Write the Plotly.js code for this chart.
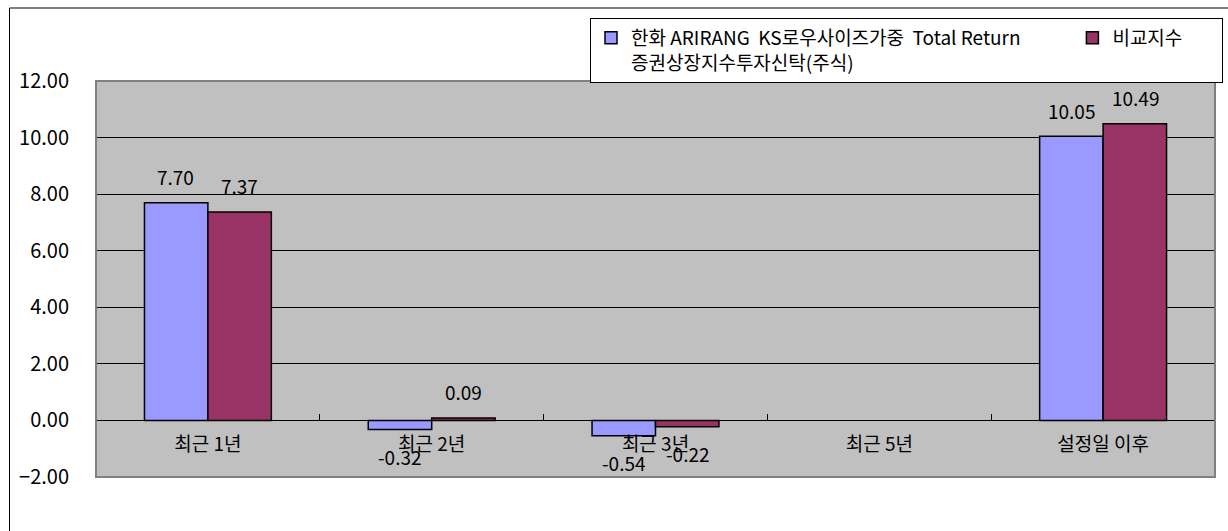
<!DOCTYPE html>
<html>
<head>
<meta charset="utf-8">
<script src="https://cdn.plot.ly/plotly-3.0.1.min.js"></script>
<style>html,body{margin:0;padding:0;background:#fff;}#chart{width:1228px;height:531px;}</style>
</head>
<body>
<div id="chart"></div>
<script>
const categories = ['최근 1년', '최근 2년', '최근 3년', '최근 5년', '설정일 이후'];
const fundName = '한화 ARIRANG  KS로우사이즈가중  Total Return' + '&nbsp;'.repeat(11) + '<br>증권상장지수투자신탁(주식)';
const benchName = '비교지수' + '&nbsp;'.repeat(8);
const fundValues = [7.70, -0.32, -0.54, null, 10.05];
const benchValues = [7.37, 0.09, -0.22, null, 10.49];
const yTicks = [-2, 0, 2, 4, 6, 8, 10, 12];

const FONT = 'Noto Sans CJK KR, Liberation Sans, sans-serif';

const traces = [
  {type: 'bar', name: fundName, x: categories, y: fundValues,
   marker: {color: '#9999FF', line: {color: '#000000', width: 1.5}}, hoverinfo: 'x+y'},
  {type: 'bar', name: benchName, x: categories, y: benchValues,
   marker: {color: '#993366', line: {color: '#000000', width: 1.5}}, hoverinfo: 'x+y'}
];

const annotations = [];
[[fundValues, -32], [benchValues, 32]].forEach(([vals, dx]) => {
  vals.forEach((v, i) => {
    if (v === null) return;
    annotations.push({
      x: categories[i], y: v, xref: 'x', yref: 'y', text: v.toFixed(2),
      showarrow: false, xshift: dx, yshift: v >= 0 ? 26 : -27,
      xanchor: 'center', yanchor: 'middle',
      font: {family: FONT, size: 19, color: '#000'}
    });
  });
});

const layout = {
  width: 1228, height: 531,
  margin: {l: 96, r: 13, t: 81, b: 54, pad: 0, autoexpand: false},
  paper_bgcolor: '#ffffff', plot_bgcolor: '#C0C0C0',
  font: {family: FONT, size: 19, color: '#000'},
  barmode: 'group', bargap: 0.433, bargroupgap: 0,
  showlegend: true,
  legend: {orientation: 'h', xref: 'container', yref: 'container',
    x: 1223 / 1228, xanchor: 'right', y: 1 - 18 / 531, yanchor: 'top',
    bgcolor: '#ffffff', bordercolor: '#000000', borderwidth: 1,
    font: {family: FONT, size: 19, color: '#000'}, valign: 'top',
    traceorder: 'normal', itemclick: false, itemwidth: 30},
  xaxis: {type: 'category', anchor: 'free', position: 2 / 14,
    showline: true, linecolor: '#000', linewidth: 1,
    ticks: 'inside', ticklen: 6, tickcolor: '#000', tickson: 'boundaries',
    ticklabelstandoff: 7, showgrid: false, fixedrange: true,
    tickfont: {family: FONT, size: 19, color: '#000'}},
  yaxis: {range: [-2, 12], tickvals: yTicks, tickformat: '.2f',
    showgrid: true, gridcolor: '#000', gridwidth: 1, zeroline: false,
    showline: false, ticks: '', ticklabelstandoff: 26, fixedrange: true,
    tickfont: {family: FONT, size: 20, color: '#000'}},
  annotations: annotations,
  shapes: [
    {type: 'rect', xref: 'paper', yref: 'paper', x0: 0, x1: 1, y0: 0, y1: 1,
     line: {color: '#808080', width: 2}, fillcolor: 'rgba(0,0,0,0)'},
    {type: 'line', xref: 'paper', yref: 'paper', x0: (9.5 - 96) / 1119, x1: (1240 - 96) / 1119,
     y0: (477 - 8) / 396, y1: (477 - 8) / 396, line: {color: '#000', width: 1}},
    {type: 'line', xref: 'paper', yref: 'paper', x0: (9.5 - 96) / 1119, x1: (9.5 - 96) / 1119,
     y0: (477 - 8) / 396, y1: (477 - 545) / 396, line: {color: '#000', width: 1}}
  ]
};

Plotly.newPlot('chart', traces, layout, {displayModeBar: false, staticPlot: true});
</script>
</body>
</html>
